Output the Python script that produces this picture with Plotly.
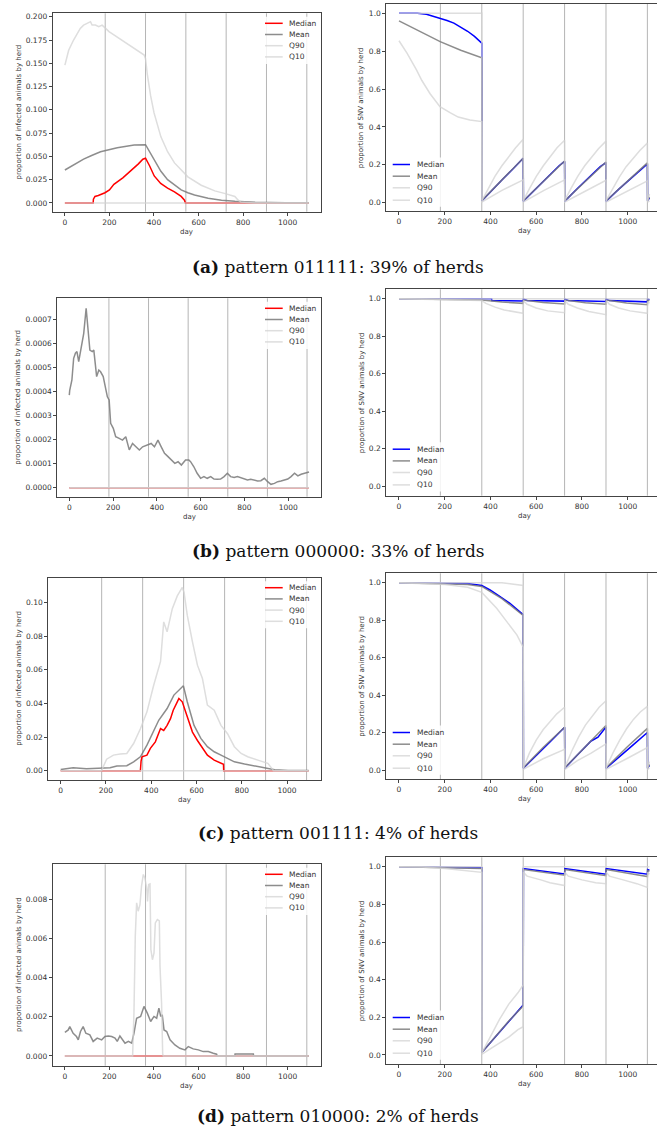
import plotly.graph_objects as go

W, H = 657, 1135

# ---------------- data ----------------
day_ticks = [0, 200, 400, 600, 800, 1000]
cycle_days = [181, 362, 543, 724, 905, 1086]
zero_day = [0, 1095]
zero_val = [0, 0]

# (a) pattern 011111 - infected
a_inf_median_day = [0, 127, 128, 135, 150, 180, 200, 220, 260, 300, 330, 350, 362, 380, 401, 430, 461, 492, 522, 537, 541, 1095]
a_inf_median = [0, 0, 0.004, 0.007, 0.008, 0.011, 0.014, 0.020, 0.027, 0.035, 0.042, 0.047, 0.048, 0.040, 0.029, 0.021, 0.016, 0.012, 0.007, 0.003, 0, 0]
a_inf_mean_day = [0, 40, 84, 120, 160, 235, 311, 362, 380, 401, 431, 461, 492, 522, 552, 582, 643, 703, 763, 854, 989, 1095]
a_inf_mean = [0.0354, 0.041, 0.047, 0.051, 0.055, 0.0594, 0.0623, 0.0626, 0.055, 0.046, 0.034, 0.025, 0.019, 0.014, 0.011, 0.0086, 0.005, 0.003, 0.0018, 0.0007, 0.0003, 0.0001]
a_inf_q90_day = [0, 17, 39, 54, 69, 84, 100, 115, 122, 137, 152, 167, 183, 198, 220, 243, 265, 288, 311, 333, 356, 362,
                 370, 385, 400, 431, 461, 492, 552, 612, 673, 720, 763, 778, 790, 850, 1095]
a_inf_q90 = [0.148, 0.164, 0.175, 0.182, 0.1875, 0.191, 0.193, 0.1947, 0.191, 0.191, 0.1893, 0.191, 0.1875, 0.184, 0.1804, 0.1768, 0.1732, 0.1696, 0.166, 0.1625, 0.1589, 0.155,
             0.138, 0.115, 0.097, 0.071, 0.055, 0.043, 0.028, 0.019, 0.013, 0.010, 0.007, 0.003, 0.001, 0, 0]
a_inf_ticks = [0.0, 0.025, 0.05, 0.075, 0.1, 0.125, 0.15, 0.175, 0.2]
a_inf_labels = ["0.000", "0.025", "0.050", "0.075", "0.100", "0.125", "0.150", "0.175", "0.200"]

# (a) pattern 011111 - SNV
a_snv_median_day = [0, 80, 120, 150, 180, 210, 240, 270, 300, 330, 362, 363, 400, 450, 500, 543, 544, 600, 650, 700, 724, 725, 780, 830, 880, 905, 906, 960, 1010, 1060, 1086, 1087, 1095]
a_snv_median = [1.0, 1.0, 0.995, 0.985, 0.975, 0.962, 0.948, 0.928, 0.905, 0.878, 0.842, 0.01, 0.058, 0.12, 0.18, 0.235, 0.008, 0.075, 0.135, 0.195, 0.218, 0.008, 0.075, 0.135, 0.19, 0.212, 0.008, 0.07, 0.125, 0.18, 0.205, 0.01, 0.025]
a_snv_mean_day = [0, 90, 180, 270, 362, 363, 450, 543, 544, 634, 724, 725, 815, 905, 906, 996, 1086, 1087, 1095]
a_snv_mean = [0.96, 0.905, 0.85, 0.805, 0.765, 0.012, 0.122, 0.235, 0.01, 0.115, 0.22, 0.01, 0.112, 0.215, 0.01, 0.108, 0.21, 0.01, 0.03]
a_snv_q90_day = [0, 362, 363, 390, 420, 450, 480, 510, 543, 544, 571, 601, 631, 661, 691, 724, 725, 752, 782, 812, 842, 872, 905, 906, 933, 963, 993, 1023, 1053, 1086, 1087, 1095]
a_snv_q90 = [1.0, 1.0, 0.012, 0.075, 0.14, 0.195, 0.245, 0.29, 0.335, 0.012, 0.075, 0.14, 0.195, 0.245, 0.29, 0.33, 0.012, 0.075, 0.14, 0.195, 0.24, 0.285, 0.325, 0.012, 0.07, 0.135, 0.19, 0.235, 0.275, 0.315, 0.01, 0.045]
a_snv_q10_day = [0, 35, 77, 100, 136, 179, 223, 259, 310, 362, 363, 450, 543, 544, 634, 724, 725, 815, 905, 906, 996, 1086, 1087, 1095]
a_snv_q10 = [0.855, 0.79, 0.70, 0.645, 0.575, 0.507, 0.475, 0.452, 0.437, 0.428, 0.004, 0.065, 0.12, 0.004, 0.065, 0.12, 0.004, 0.063, 0.118, 0.004, 0.06, 0.115, 0.003, 0.01]

# (b) pattern 000000 - infected
b_inf_mean_day = [0, 2, 12, 20, 28, 35, 43, 54, 66, 77, 82, 94, 105, 112, 125, 135, 143, 155, 166, 174,
                  182, 189, 201, 212, 228, 243, 258, 274, 289, 320, 335, 358, 374, 389, 405, 420, 435, 451, 466, 482,
                  497, 512, 531, 546, 554, 569, 584, 600, 615, 630, 646, 661, 676, 691, 707, 722, 737, 753, 768, 783,
                  799, 814, 829, 844, 860, 875, 891, 906, 921, 937, 952, 967, 983, 998, 1013, 1029, 1044, 1059, 1075, 1095]
b_inf_mean = [0.000385, 0.000405, 0.000448, 0.000538, 0.000559, 0.000566, 0.000524, 0.000586, 0.000642, 0.000746,
              0.000683, 0.000572, 0.000566, 0.000572, 0.000462, 0.000489, 0.000482, 0.000462, 0.000413, 0.000378,
              0.000365, 0.000268, 0.000247, 0.000212, 0.000205, 0.000198, 0.000212, 0.000157, 0.000184, 0.000157,
              0.00017, 0.000177, 0.000184, 0.00017, 0.000198, 0.00017, 0.000143, 0.000129, 0.000115, 0.000101,
              0.000108, 0.000094, 0.000115, 0.000115, 0.000108, 0.000087, 0.00006, 0.000039, 0.000046, 0.000039,
              0.000046, 0.000036, 0.000035, 0.000036, 0.000046, 0.00006, 0.000046, 0.000042, 0.000046, 0.000042,
              0.000036, 0.000032, 0.000035, 0.000032, 0.000028, 0.000029, 0.000039, 0.000025, 0.000014, 0.000018,
              0.000025, 0.000028, 0.000032, 0.000036, 0.000046, 0.00006, 0.000049, 0.000056, 0.00006, 0.000065]
b_inf_ticks = [0.0, 0.0001, 0.0002, 0.0003, 0.0004, 0.0005, 0.0006, 0.0007]
b_inf_labels = ["0.0000", "0.0001", "0.0002", "0.0003", "0.0004", "0.0005", "0.0006", "0.0007"]

# (b) pattern 000000 - SNV
b_snv_median_day = [0, 405, 406, 543, 544, 560, 724, 725, 740, 905, 906, 920, 1086, 1087, 1095]
b_snv_median = [1.0, 1.0, 0.99, 0.988, 0.998, 0.99, 0.987, 0.998, 0.99, 0.985, 0.998, 0.99, 0.983, 0.998, 0.995]
b_snv_mean_day = [0, 200, 362, 450, 543, 544, 630, 724, 725, 815, 905, 906, 995, 1086, 1087, 1095]
b_snv_mean = [1.0, 0.998, 0.993, 0.982, 0.975, 0.993, 0.98, 0.972, 0.993, 0.978, 0.97, 0.993, 0.977, 0.968, 0.993, 0.99]
b_snv_q90_day = [0, 1095]
b_snv_q90 = [1.0, 1.0]
b_snv_q10_day = [0, 100, 200, 300, 362, 380, 420, 460, 500, 543, 544, 560, 600, 650, 724, 725, 740, 780, 830, 905, 906, 920, 960, 1010, 1086, 1087, 1095]
b_snv_q10 = [1.0, 0.998, 0.993, 0.99, 0.99, 0.975, 0.955, 0.94, 0.93, 0.922, 0.99, 0.97, 0.95, 0.935, 0.925, 0.99, 0.97, 0.95, 0.932, 0.915, 0.99, 0.97, 0.95, 0.935, 0.922, 0.985, 0.975]

# (c) pattern 001111 - infected
c_inf_median_day = [0, 352, 355, 359, 381, 396, 418, 441, 455, 470, 485, 497, 515, 522, 537, 552, 567, 582, 604, 626, 648, 678, 708, 719, 720, 1095]
c_inf_median = [0, 0, 0.0057, 0.0083, 0.0093, 0.0133, 0.0172, 0.0251, 0.024, 0.027, 0.031, 0.036, 0.041, 0.043, 0.041, 0.035, 0.029, 0.023, 0.018, 0.0133, 0.0093, 0.0063, 0.0044, 0.0038, 0, 0]
c_inf_mean_day = [0, 55, 114, 174, 218, 248, 292, 322, 352, 381, 411, 433, 470, 500, 542, 559, 589, 619, 648, 678, 708, 737, 767, 812, 856, 901, 945, 1004, 1095]
c_inf_mean = [0.0008, 0.0018, 0.0012, 0.0014, 0.0018, 0.0028, 0.003, 0.0053, 0.0083, 0.0152, 0.0232, 0.030, 0.037, 0.045, 0.0505, 0.041, 0.027, 0.0192, 0.0143, 0.0113, 0.0093, 0.0073, 0.0053, 0.004, 0.0028, 0.0014, 0.0006, 0.0002, 0.0001]
c_inf_q90_day = [0, 180, 203, 233, 263, 292, 322, 352, 381, 411, 441, 455, 470, 493, 515, 537, 545, 559, 582, 604, 626, 648, 678, 708, 737, 767, 797, 826, 871, 915, 935, 940, 1095]
c_inf_q90 = [0, 0, 0.0069, 0.0093, 0.0099, 0.0103, 0.0162, 0.025, 0.035, 0.051, 0.065, 0.0885, 0.0826, 0.0964, 0.104, 0.109, 0.106, 0.0925, 0.0766, 0.0628, 0.0549, 0.039, 0.036, 0.027, 0.022, 0.0143, 0.0103, 0.0083, 0.0063, 0.0044, 0.001, 0, 0]
c_inf_ticks = [0.0, 0.02, 0.04, 0.06, 0.08, 0.1]
c_inf_labels = ["0.00", "0.02", "0.04", "0.06", "0.08", "0.10"]

# (c) pattern 001111 - SNV
c_snv_median_day = [0, 250, 300, 362, 398, 442, 485, 541, 543, 544, 600, 660, 724, 725, 780, 840, 870, 905, 906, 960, 1020, 1086, 1087, 1095]
c_snv_median = [1.0, 0.998, 0.995, 0.985, 0.961, 0.925, 0.89, 0.831, 0.828, 0.01, 0.075, 0.15, 0.228, 0.01, 0.08, 0.155, 0.175, 0.23, 0.01, 0.065, 0.13, 0.2, 0.01, 0.025]
c_snv_mean_day = [0, 200, 300, 362, 450, 543, 544, 630, 724, 725, 815, 905, 906, 995, 1086, 1087, 1095]
c_snv_mean = [1.0, 0.995, 0.99, 0.98, 0.915, 0.825, 0.012, 0.12, 0.228, 0.012, 0.125, 0.238, 0.012, 0.12, 0.222, 0.01, 0.03]
c_snv_q90_day = [0, 450, 543, 544, 570, 600, 630, 660, 690, 724, 725, 755, 785, 815, 845, 875, 905, 906, 935, 965, 995, 1025, 1055, 1070, 1086, 1087, 1095]
c_snv_q90 = [1.0, 1.0, 0.985, 0.012, 0.09, 0.16, 0.215, 0.26, 0.3, 0.335, 0.012, 0.1, 0.175, 0.24, 0.29, 0.335, 0.37, 0.012, 0.09, 0.16, 0.22, 0.27, 0.31, 0.325, 0.34, 0.01, 0.045]
c_snv_q10_day = [0, 100, 200, 300, 362, 427, 471, 516, 541, 543, 544, 630, 724, 725, 780, 840, 905, 906, 995, 1086, 1087, 1095]
c_snv_q10 = [1.0, 0.995, 0.99, 0.975, 0.948, 0.863, 0.792, 0.72, 0.66, 0.655, 0.004, 0.06, 0.11, 0.004, 0.05, 0.09, 0.14, 0.004, 0.06, 0.12, 0.003, 0.01]

# (d) pattern 010000 - infected
d_inf_mean_day = [0, 15, 22, 37, 52, 60, 70, 82, 94, 112, 127, 145, 165, 180, 195, 210, 225, 235, 247, 259,
                  270, 285, 300, 310, 322, 340, 355, 370, 385, 400, 412, 422, 430, 437, 445, 457, 472, 494, 516, 539,
                  554, 576, 599, 621, 644, 666, 681, 684, 763, 764, 846, 847, 1095]
d_inf_mean = [0.0012, 0.00133, 0.0015, 0.00116, 0.00099, 0.00082, 0.00125, 0.0015, 0.00116, 0.00108,
              0.00074, 0.00091, 0.00082, 0.00099, 0.00102, 0.00099, 0.00091, 0.00074, 0.00102, 0.00082,
              0.00065, 0.00074, 0.00065, 0.00116, 0.00193, 0.00202, 0.00253, 0.00219, 0.00176, 0.00202,
              0.00193, 0.00244, 0.00202, 0.0021, 0.00133, 0.00125, 0.00082, 0.00056, 0.00039, 0.00031,
              0.00048, 0.00036, 0.00031, 0.00022, 0.00022, 0.00014, 0.00009, 0, 0, 0.0001, 0.0001, 0, 0]
d_inf_q90_day = [0, 304, 310, 316, 322, 329, 337, 344, 352, 359, 367, 371, 376, 382, 386, 393, 400, 406, 415, 424, 427, 434, 439, 442, 1095]
d_inf_q90 = [0, 0, 0.00219, 0.00612, 0.00783, 0.0074, 0.00774, 0.00868, 0.00928, 0.0091, 0.0086, 0.0079, 0.00877, 0.0088, 0.00544, 0.00492, 0.00526, 0.0068, 0.00697, 0.0069, 0.00458, 0.0027, 0.0001, 0, 0]
d_inf_ticks = [0.0, 0.002, 0.004, 0.006, 0.008]
d_inf_labels = ["0.000", "0.002", "0.004", "0.006", "0.008"]

# (d) pattern 010000 - SNV
d_snv_median_day = [0, 362, 363, 420, 480, 543, 544, 724, 725, 905, 906, 1086, 1087, 1095]
d_snv_median = [1.0, 0.995, 0.015, 0.095, 0.18, 0.265, 0.99, 0.962, 0.99, 0.96, 0.99, 0.96, 0.985, 0.982]
d_snv_mean_day = [0, 362, 363, 420, 480, 543, 544, 724, 725, 905, 906, 1086, 1087, 1095]
d_snv_mean = [1.0, 0.99, 0.015, 0.095, 0.18, 0.26, 0.985, 0.955, 0.985, 0.952, 0.985, 0.948, 0.98, 0.975]
d_snv_q90_day = [0, 362, 363, 400, 440, 480, 520, 543, 544, 1095]
d_snv_q90 = [1.0, 1.0, 0.012, 0.1, 0.19, 0.27, 0.33, 0.372, 1.0, 1.0]
d_snv_q10_day = [0, 100, 200, 300, 362, 363, 420, 480, 520, 543, 544, 560, 620, 660, 724, 725, 740, 800, 860, 905, 906, 920, 980, 1040, 1086, 1087, 1095]
d_snv_q10 = [1.0, 0.998, 0.99, 0.98, 0.97, 0.005, 0.05, 0.095, 0.135, 0.15, 0.97, 0.95, 0.93, 0.915, 0.9, 0.97, 0.95, 0.93, 0.915, 0.91, 0.97, 0.95, 0.93, 0.91, 0.89, 0.97, 0.96]

snv_ticks = [0.0, 0.2, 0.4, 0.6, 0.8, 1.0]
snv_labels = ["0.0", "0.2", "0.4", "0.6", "0.8", "1.0"]

captions = [
    "<b>(a)</b> pattern 011111: 39% of herds",
    "<b>(b)</b> pattern 000000: 33% of herds",
    "<b>(c)</b> pattern 001111: 4% of herds",
    "<b>(d)</b> pattern 010000: 2% of herds",
]
series_names = ["Median", "Mean", "Q90", "Q10"]

# ---------------- styling ----------------
RED, BLUE, GREY, LIGHT = "#ff0000", "#0000ff", "#7a7a7a", "#d3d3d3"
AX = "#444444"
SANS = "DejaVu Sans"


def fx(px):
    return px / W


def fy(py):
    return 1 - py / H


# frame pixels: (left, top, right, bottom), y range, ticks
panels = [
    dict(frame=(52.7, 13.3, 321, 211.7), yr=[-0.0094, 0.2037], tv=a_inf_ticks, tt=a_inf_labels,
         data=[(a_inf_median_day, a_inf_median), (a_inf_mean_day, a_inf_mean), (a_inf_q90_day, a_inf_q90), (zero_day, zero_val)],
         snv=False, ytx=19),
    dict(frame=(386.3, 4, 657, 211), yr=[-0.044, 1.049], tv=snv_ticks, tt=snv_labels,
         data=[(a_snv_median_day, a_snv_median), (a_snv_mean_day, a_snv_mean), (a_snv_q90_day, a_snv_q90), (a_snv_q10_day, a_snv_q10)],
         snv=True, ytx=361.7),
    dict(frame=(57.3, 298.3, 321, 496.7), yr=[-0.0000375, 0.0007875], tv=b_inf_ticks, tt=b_inf_labels,
         data=[(zero_day, zero_val), (b_inf_mean_day, b_inf_mean), (zero_day, zero_val), (zero_day, zero_val)],
         snv=False, ytx=18.3),
    dict(frame=(386.3, 289.3, 657, 495.7), yr=[-0.05, 1.05], tv=snv_ticks, tt=snv_labels,
         data=[(b_snv_median_day, b_snv_median), (b_snv_mean_day, b_snv_mean), (b_snv_q90_day, b_snv_q90), (b_snv_q10_day, b_snv_q10)],
         snv=True, ytx=361.7),
    dict(frame=(48.3, 577.7, 321, 780), yr=[-0.0055, 0.1148], tv=c_inf_ticks, tt=c_inf_labels,
         data=[(c_inf_median_day, c_inf_median), (c_inf_mean_day, c_inf_mean), (c_inf_q90_day, c_inf_q90), (zero_day, zero_val)],
         snv=False, ytx=19),
    dict(frame=(386.3, 573.3, 657, 779), yr=[-0.048, 1.05], tv=snv_ticks, tt=snv_labels,
         data=[(c_snv_median_day, c_snv_median), (c_snv_mean_day, c_snv_mean), (c_snv_q90_day, c_snv_q90), (c_snv_q10_day, c_snv_q10)],
         snv=True, ytx=361.7),
    dict(frame=(52.7, 864.3, 321, 1065.7), yr=[-0.0005, 0.0098], tv=d_inf_ticks, tt=d_inf_labels,
         data=[(zero_day, zero_val), (d_inf_mean_day, d_inf_mean), (d_inf_q90_day, d_inf_q90), (zero_day, zero_val)],
         snv=False, ytx=19),
    dict(frame=(386.3, 857.3, 657, 1064), yr=[-0.048, 1.05], tv=snv_ticks, tt=snv_labels,
         data=[(d_snv_median_day, d_snv_median), (d_snv_mean_day, d_snv_mean), (d_snv_q90_day, d_snv_q90), (d_snv_q10_day, d_snv_q10)],
         snv=True, ytx=361.7),
]
caption_y = [267, 551, 833, 1116]

fig = go.Figure()
shapes, annotations, axes = [], [], {}

for i, p in enumerate(panels, start=1):
    l, t, r, b = p["frame"]
    xa, ya = ("x", "y") if i == 1 else (f"x{i}", f"y{i}")
    xkey, ykey = ("xaxis", "yaxis") if i == 1 else (f"xaxis{i}", f"yaxis{i}")
    med_col = BLUE if p["snv"] else RED
    colors = [med_col, GREY, LIGHT, LIGHT]
    opac = [1.0, 0.85, 0.75, 0.75]

    for (dx, dy), name, c, o in zip(p["data"], series_names, colors, opac):
        fig.add_trace(go.Scatter(x=dx, y=dy, mode="lines", name=name, showlegend=False,
                                 line=dict(color=c, width=1.5), opacity=o,
                                 xaxis=xa, yaxis=ya, hoverinfo="skip"))

    xr = [-55.5, 1128] if p["snv"] else [-54.75, 1149.75]
    axes[xkey] = dict(domain=[fx(l), fx(r)], anchor=ya, range=xr, tickvals=day_ticks,
                      showgrid=False, zeroline=False, showline=True, linecolor=AX, linewidth=1,
                      mirror=True, ticks="outside", ticklen=3, tickcolor=AX,
                      tickfont=dict(family=SANS, size=7.5, color="#333"))
    axes[ykey] = dict(domain=[fy(b), fy(t)], anchor=xa, range=p["yr"], tickvals=p["tv"], ticktext=p["tt"],
                      showgrid=False, zeroline=False, showline=True, linecolor=AX, linewidth=1,
                      mirror=not p["snv"], ticks="outside", ticklen=3, tickcolor=AX,
                      tickfont=dict(family=SANS, size=7.5, color="#333"))

    # vertical cycle lines
    for cd in cycle_days:
        shapes.append(dict(type="line", xref=xa, yref=f"{ya} domain", x0=cd, x1=cd, y0=0, y1=1,
                           line=dict(color="rgba(120,120,120,0.55)", width=1), layer="below"))

    # axis titles
    ytitle = "proportion of SNV animals by herd" if p["snv"] else "proportion of infected animals by herd"
    annotations.append(dict(x=fx(p["ytx"]), y=fy((t + b) / 2), xref="paper", yref="paper", text=ytitle,
                            textangle=-90, showarrow=False, font=dict(family=SANS, size=7, color="#333"),
                            xanchor="center", yanchor="middle"))
    xc = 524 if p["snv"] else (l + r) / 2
    annotations.append(dict(x=fx(xc), y=fy(b + 20), xref="paper", yref="paper", text="day",
                            showarrow=False, font=dict(family=SANS, size=7, color="#333"),
                            xanchor="center", yanchor="middle"))

    # hand-drawn legend (matplotlib style, tight rows)
    if p["snv"]:
        lx0, lx1, tx = 392.7, 410, 415
        rows = [b - 46.5, b - 34.8, b - 23.2, b - 10.8]
        box = (389, rows[0] - 7, 444, rows[-1] + 6.5)
    else:
        lx0, lx1, tx = 265, 282.7, 287
        top = t + 10
        rows = [top, top + 11.2, top + 22.4, top + 33.6]
        box = (261, rows[0] - 6.5, 317, rows[-1] + 7)
    shapes.append(dict(type="rect", xref="paper", yref="paper", x0=fx(box[0]), x1=fx(box[2]),
                       y0=fy(box[3]), y1=fy(box[1]), fillcolor="rgba(255,255,255,0.85)",
                       line=dict(width=0), layer="above"))
    for ry, name, c, o in zip(rows, series_names, colors, opac):
        shapes.append(dict(type="line", xref="paper", yref="paper", x0=fx(lx0), x1=fx(lx1),
                           y0=fy(ry), y1=fy(ry), line=dict(color=c, width=1.5), opacity=o, layer="above"))
        annotations.append(dict(x=fx(tx), y=fy(ry), xref="paper", yref="paper", text=name,
                                showarrow=False, xanchor="left", yanchor="middle",
                                font=dict(family=SANS, size=7.5, color="#333")))

for cap, cy in zip(captions, caption_y):
    annotations.append(dict(x=fx(338), y=fy(cy), xref="paper", yref="paper", text=cap, showarrow=False,
                            xanchor="center", yanchor="middle",
                            font=dict(family="DejaVu Serif", size=17, color="#111")))

fig.update_layout(
    width=W, height=H, margin=dict(l=0, r=0, t=0, b=0),
    paper_bgcolor="white", plot_bgcolor="white",
    showlegend=False, shapes=shapes, annotations=annotations, **axes,
)

# page body has an 8px default margin; drop it so the figure sits at the window origin
fig.write_html("out.html", config={"displayModeBar": False},
               post_script="document.body.style.margin='0';")
